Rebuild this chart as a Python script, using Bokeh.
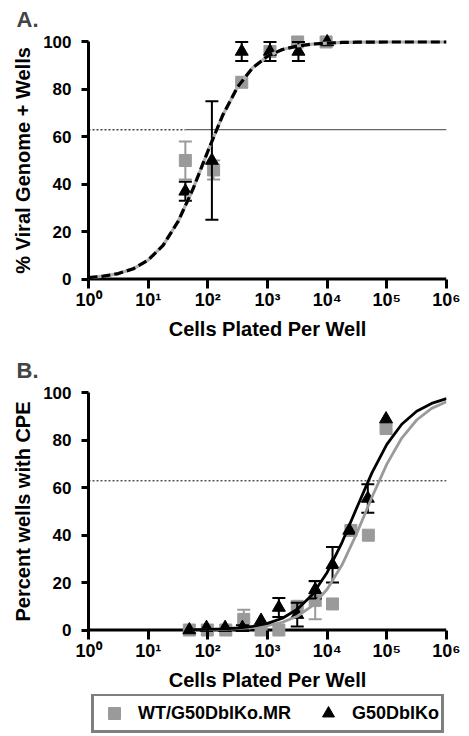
from bokeh.plotting import figure
from bokeh.models import Range1d, FixedTicker, Legend, LegendItem, Span
from bokeh.layouts import column
from bokeh.embed import file_html
from bokeh.resources import INLINE

FONT = "Liberation Sans"
GRAY = "#9a9a9a"

# ---------------- data ----------------
decade_ticks = [1, 10, 100, 1000, 10000, 100000, 1000000]
decade_labels = ["10⁰", "10¹", "10²", "10³", "10⁴", "10⁵", "10⁶"]
y_ticks = [0, 20, 40, 60, 80, 100]
threshold = 63

# Panel A: % viral genome + wells
a_wt_x = [42, 125, 370, 1100, 3200, 9600]
a_wt_y = [50, 46, 83, 96, 100, 100]
a_wt_err = [8, 4, 0, 0, 0, 0]
a_ko_x = [42, 117, 370, 1100, 3300, 10000]
a_ko_y = [37, 50, 96, 96, 96, 100]
a_ko_err = [4, 25, 4, 4, 4, 0]
a_fit_exp = [0, 0.25, 0.5, 0.75, 1.0, 1.25, 1.5, 1.75, 2.0, 2.25, 2.5, 2.75,
             3.0, 3.25, 3.5, 3.75, 4.0, 4.25, 4.5, 5.0, 5.5, 6.0]
a_fit_y = [0.6, 1.2, 2.3, 4.3, 8.0, 14.2, 24.2, 37.9, 53.9, 69.1, 81.1, 89.1,
           94.0, 96.8, 98.3, 99.1, 99.5, 99.8, 99.9, 100, 100, 100]
a_split = 42  # dotted part of the 63% line ends here

# Panel B: percent wells with CPE
b_wt_x = [49, 98, 200, 400, 780, 1550, 3150, 6300, 12300, 25000, 49000, 97000]
b_wt_y = [0, 0, 0, 4.5, 0, 0, 10, 12.5, 11, 42, 40, 85]
b_wt_err = [0, 0, 0, 4, 0, 0, 0, 8, 0, 0, 0, 0]
b_ko_x = [49, 95, 195, 380, 780, 1550, 3150, 6300, 12300, 23500, 48000, 97000]
b_ko_y = [0, 1, 1, 1, 4, 9.5, 6.5, 17, 27.5, 42, 55.5, 89]
b_ko_err = [0, 0, 0, 1, 0, 4, 5, 3.7, 7.5, 0, 6, 0]
b_fit_exp = [1.75, 2.0, 2.25, 2.5, 2.75, 3.0, 3.25, 3.5, 3.75, 4.0, 4.25, 4.5,
             4.75, 5.0, 5.25, 5.5, 5.75, 6.0]
b_fit_ko = [0.14, 0.25, 0.46, 0.85, 1.54, 2.78, 4.98, 8.74, 14.9, 24.3, 37.0, 51.8,
            66.3, 78.3, 86.8, 92.3, 95.6, 97.6]
b_fit_wt = [0.09, 0.17, 0.30, 0.55, 1.0, 1.8, 3.28, 5.8, 10.2, 17.2, 27.5, 41.0,
            56.0, 70.0, 81.0, 88.6, 93.5, 96.3]

legend_labels = ["WT/G50DblKo.MR", "G50DblKo"]

LEFT, RIGHT = 88, 23


def make_fig(height, top, ylabel, xlabel, panel):
    p = figure(width=469, height=height, x_axis_type="log",
               x_range=Range1d(1, 1e6), y_range=Range1d(-4, 104),
               output_backend="svg", toolbar_location=None,
               min_border_left=LEFT, min_border_right=RIGHT,
               min_border_top=top, min_border_bottom=height - top - 256)
    p.grid.visible = False
    p.outline_line_color = None

    p.title.text = panel
    p.title.align = "left"
    p.title.offset = -(LEFT - 16)
    p.title.standoff = 2
    p.title.text_font = FONT
    p.title.text_font_style = "bold"
    p.title.text_font_size = "22px"

    # x axis line drawn at y = 0 (frame extends slightly below 0 so markers are whole)
    p.add_layout(Span(location=0, dimension="width", line_color="black",
                      line_width=3, level="underlay"))

    xa = p.xaxis[0]
    xa.ticker = FixedTicker(ticks=decade_ticks)
    xa.major_label_overrides = dict(zip(decade_ticks, decade_labels))
    xa.axis_line_color = None
    xa.major_tick_in = 9
    xa.major_tick_out = 0
    xa.major_label_standoff = 1
    xa.axis_label = xlabel
    xa.axis_label_standoff = 5
    xa.major_label_text_font_size = "18px"

    ya = p.yaxis[0]
    ya.ticker = FixedTicker(ticks=y_ticks)
    ya.bounds = (0, 100)
    ya.axis_label = ylabel
    ya.axis_line_width = 3
    ya.axis_line_color = "black"
    ya.major_tick_out = 7
    ya.major_tick_in = 0
    ya.major_label_standoff = 10
    ya.axis_label_standoff = 6
    ya.major_label_text_font_size = "17px"

    for ax in (xa, ya):
        ax.major_tick_line_width = 3
        ax.major_tick_line_color = "black"
        ax.minor_tick_line_color = None
        ax.major_label_text_font = FONT
        ax.major_label_text_font_style = "bold"
        ax.major_label_text_color = "black"
        ax.axis_label_text_font = FONT
        ax.axis_label_text_font_style = "bold"
        ax.axis_label_text_font_size = "20px"
        ax.axis_label_text_color = "black"
    return p


def errbars(p, xs, ys, errs, color, lw):
    ex = [x for x, e in zip(xs, errs) if e > 0]
    lo = [y - e for y, e in zip(ys, errs) if e > 0]
    hi = [y + e for y, e in zip(ys, errs) if e > 0]
    p.segment(ex, lo, ex, hi, line_color=color, line_width=lw)
    p.scatter(ex + ex, lo + hi, marker="dash", size=13, line_color=color, line_width=lw)


# ---------------- Panel A ----------------
pa = make_fig(348, 32, "% Viral Genome + Wells", "Cells Plated Per Well", "A.")
pa.line([1, a_split], [threshold, threshold], line_color="#444444", line_width=1.4, line_dash="2 2")
pa.line([a_split, 1e6], [threshold, threshold], line_color="#666666", line_width=1.3)
errbars(pa, a_wt_x, a_wt_y, a_wt_err, GRAY, 2)
pa.scatter(a_wt_x, a_wt_y, marker="square", size=12, fill_color=GRAY, line_color=GRAY)
errbars(pa, a_ko_x, a_ko_y, a_ko_err, "black", 2)
pa.scatter(a_ko_x, a_ko_y, marker="triangle", size=13, fill_color="black", line_color="black")
a_fit_x = [10 ** e for e in a_fit_exp]
pa.line(a_fit_x, a_fit_y, line_color="#b0b0b0", line_width=3.2)
pa.line(a_fit_x, a_fit_y, line_color="black", line_width=3.2, line_dash="9 4")

# ---------------- Panel B ----------------
pb = make_fig(346, 35, "Percent wells with CPE", "Cells Plated Per Well", "B.")
pb.line([1, 1e6], [threshold, threshold], line_color="#555555", line_width=1.4, line_dash="2 2")
errbars(pb, b_wt_x, b_wt_y, b_wt_err, GRAY, 2)
pb.scatter(b_wt_x, b_wt_y, marker="square", size=12, fill_color=GRAY, line_color=GRAY)
errbars(pb, b_ko_x, b_ko_y, b_ko_err, "black", 2)
pb.scatter(b_ko_x, b_ko_y, marker="triangle", size=13, fill_color="black", line_color="black")
b_fit_x = [10 ** e for e in b_fit_exp]
pb.line(b_fit_x, b_fit_wt, line_color=GRAY, line_width=2.8)
pb.line(b_fit_x, b_fit_ko, line_color="black", line_width=2.8)

# ---------------- Legend strip ----------------
pl = figure(width=469, height=42, x_range=Range1d(0, 1), y_range=Range1d(0, 1),
            x_axis_type=None, y_axis_type=None, output_backend="svg",
            toolbar_location=None, min_border=0)
pl.grid.visible = False
pl.outline_line_color = None
# legend proxies: their single points fall outside this strip's ranges
r_wt = pl.scatter(b_wt_x[:1], [-5], marker="square", size=12, fill_color=GRAY, line_color=GRAY)
r_ko = pl.scatter(b_ko_x[:1], [-5], marker="triangle", size=13, fill_color="black", line_color="black")
legend = Legend(items=[LegendItem(label=legend_labels[0], renderers=[r_wt]),
                       LegendItem(label=legend_labels[1], renderers=[r_ko])],
                orientation="horizontal", location=(3, 3),
                border_line_color="black", border_line_width=3,
                padding=2, spacing=19, glyph_width=36, glyph_height=30,
                label_standoff=6, label_text_font=FONT,
                label_text_font_style="bold", label_text_font_size="18px",
                label_text_color="black", background_fill_alpha=1)
pl.add_layout(legend, "center")

layout = column(pa, pb, pl)
open("out.html", "w").write(file_html(layout, INLINE))
